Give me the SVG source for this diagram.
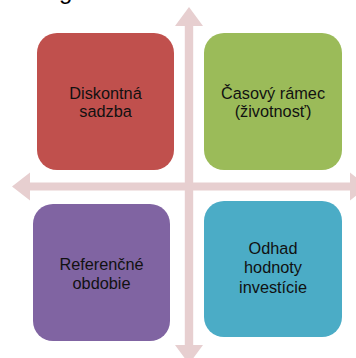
<svg xmlns="http://www.w3.org/2000/svg" width="356" height="358" viewBox="0 0 356 358">
  <style>
    .axis { fill: #E7CFD0; }
    .box { stroke: none; }
    .lbl { font-family: "Liberation Sans", Arial, sans-serif; font-size: 16.3px; fill: #111111; text-anchor: middle; }
    .title { font-family: "Liberation Sans", Arial, sans-serif; font-size: 24px; fill: #000000; }
  </style>
  <rect width="356" height="358" fill="#ffffff"/>

  <!-- descender of the heading line above -->
  <text class="title" x="59" y="-1">g</text>

  <!-- crossed double-headed axes -->
  <g id="connectors">
    <polygon class="axis" points="189,7 203,26 193.2,26 193.2,345 203,345 189,364 175,345 184.8,345 184.8,26 175,26"/>
    <polygon class="axis" points="12,186.5 30,172.5 30,182.5 350,182.5 350,172.5 368,186.5 350,200.5 350,190.5 30,190.5 30,200.5"/>
  </g>

  <g id="node-diskontna">
    <rect class="box" x="37" y="33" width="137" height="137" rx="20" fill="#C0504D"/>
    <text class="lbl" x="105.5" y="99">Diskontná</text>
    <text class="lbl" x="105.5" y="117">sadzba</text>
  </g>

  <g id="node-casovy">
    <rect class="box" x="204" y="33" width="138" height="137" rx="20" fill="#9BBB59"/>
    <text class="lbl" x="273" y="99">Časový rámec</text>
    <text class="lbl" x="273" y="117">(životnosť)</text>
  </g>

  <g id="node-referencne">
    <rect class="box" x="33" y="204" width="137" height="137" rx="20" fill="#8064A2"/>
    <text class="lbl" x="101.5" y="270">Referenčné</text>
    <text class="lbl" x="101.5" y="288.5">obdobie</text>
  </g>

  <g id="node-odhad">
    <rect class="box" x="204" y="201" width="138" height="136" rx="20" fill="#4BACC6"/>
    <text class="lbl" x="273" y="254">Odhad</text>
    <text class="lbl" x="273" y="273">hodnoty</text>
    <text class="lbl" x="273" y="292.5">investície</text>
  </g>
</svg>
